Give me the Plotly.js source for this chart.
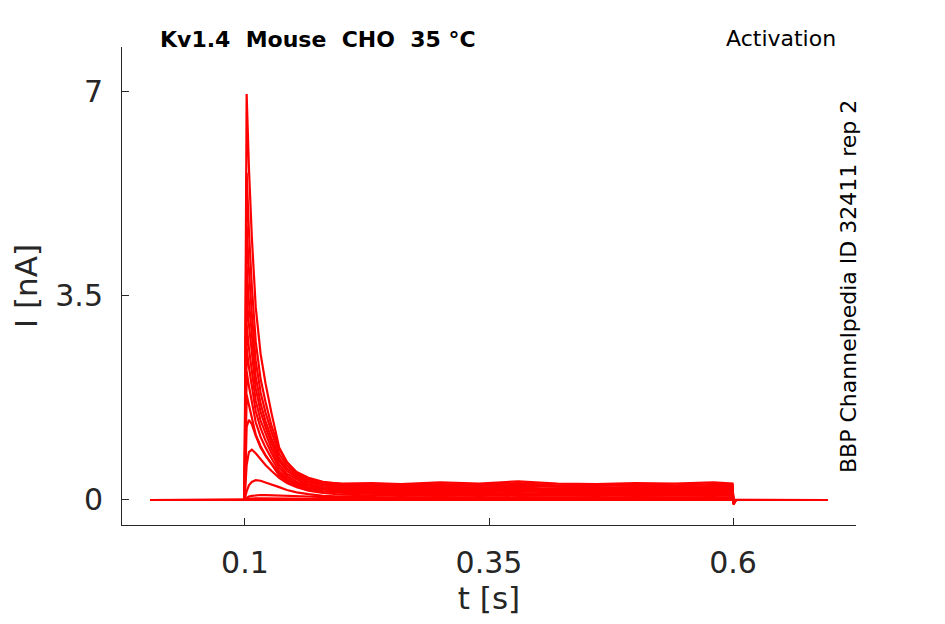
<!DOCTYPE html>
<html>
<head>
<meta charset="utf-8">
<script src="https://cdn.plot.ly/plotly-3.0.1.min.js"></script>
<style>
  body { margin: 0; background: #fff; }
  #chart { width: 945px; height: 624px; }
</style>
</head>
<body>
<div id="chart"></div>
<script>
// sample times [s]
const t = [0.003, 0.0995, 0.1003, 0.1017, 0.104, 0.107, 0.111, 0.116, 0.121, 0.127,
  0.135, 0.143, 0.153, 0.165, 0.18, 0.2, 0.23, 0.26, 0.3, 0.34,
  0.38, 0.42, 0.46, 0.5, 0.54, 0.58, 0.5995, 0.6005, 0.603, 0.65, 0.697];

// current traces [nA], one per voltage step
const i01 = [0, 0, 2.5, 6.95, 5.7, 4.5, 3.3, 2.5, 2.0, 1.5, 0.9, 0.65, 0.46, 0.36, 0.3, 0.28, 0.29, 0.27, 0.3, 0.28, 0.32, 0.28, 0.27, 0.29, 0.28, 0.3, 0.28, -0.08, 0, 0, 0];
const i02 = [0, 0, 2.0, 5.6, 4.61, 3.66, 2.71, 2.07, 1.68, 1.28, 0.87, 0.64, 0.48, 0.38, 0.31, 0.27, 0.26, 0.25, 0.27, 0.26, 0.29, 0.25, 0.26, 0.27, 0.25, 0.27, 0.26, -0.07, 0, 0, 0];
const i03 = [0, 0, 1.7, 4.7, 3.94, 3.18, 2.38, 1.84, 1.5, 1.17, 0.79, 0.59, 0.44, 0.35, 0.29, 0.25, 0.24, 0.23, 0.25, 0.24, 0.26, 0.23, 0.24, 0.25, 0.23, 0.24, 0.24, -0.06, 0, 0, 0];
const i04 = [0, 0, 1.4, 4.0, 3.39, 2.79, 2.11, 1.65, 1.35, 1.06, 0.72, 0.54, 0.41, 0.32, 0.27, 0.23, 0.22, 0.21, 0.23, 0.21, 0.24, 0.22, 0.21, 0.22, 0.21, 0.23, 0.22, -0.06, 0, 0, 0];
const i05 = [0, 0, 1.2, 3.5, 3.0, 2.51, 1.91, 1.51, 1.25, 0.98, 0.67, 0.5, 0.38, 0.3, 0.25, 0.21, 0.2, 0.19, 0.2, 0.19, 0.21, 0.19, 0.2, 0.2, 0.19, 0.2, 0.2, -0.05, 0, 0, 0];
const i06 = [0, 0, 1.0, 3.0, 2.6, 2.21, 1.7, 1.36, 1.13, 0.89, 0.61, 0.45, 0.35, 0.27, 0.22, 0.19, 0.18, 0.17, 0.18, 0.17, 0.19, 0.17, 0.18, 0.18, 0.17, 0.18, 0.18, -0.05, 0, 0, 0];
const i07 = [0, 0, 0.9, 2.6, 2.28, 1.96, 1.52, 1.23, 1.02, 0.81, 0.55, 0.41, 0.31, 0.25, 0.2, 0.17, 0.16, 0.15, 0.16, 0.15, 0.17, 0.15, 0.16, 0.16, 0.15, 0.16, 0.16, -0.04, 0, 0, 0];
const i08 = [0, 0, 0.8, 2.2, 1.95, 1.7, 1.33, 1.08, 0.9, 0.72, 0.49, 0.37, 0.28, 0.22, 0.18, 0.15, 0.14, 0.13, 0.14, 0.13, 0.15, 0.13, 0.14, 0.14, 0.13, 0.14, 0.14, -0.04, 0, 0, 0];
const i09 = [0, 0, 0.6, 1.8, 1.63, 1.43, 1.12, 0.92, 0.77, 0.62, 0.42, 0.32, 0.24, 0.19, 0.15, 0.13, 0.12, 0.11, 0.12, 0.11, 0.12, 0.11, 0.12, 0.11, 0.11, 0.12, 0.12, -0.03, 0, 0, 0];
const i10 = [0, 0, 0.4, 1.25, 1.37, 1.3, 1.1, 0.9, 0.76, 0.62, 0.45, 0.34, 0.26, 0.2, 0.15, 0.12, 0.1, 0.09, 0.1, 0.09, 0.1, 0.09, 0.09, 0.1, 0.09, 0.09, 0.1, -0.03, 0, 0, 0];
const i11 = [0, 0, 0.2, 0.6, 0.82, 0.86, 0.8, 0.7, 0.6, 0.5, 0.38, 0.29, 0.22, 0.16, 0.12, 0.09, 0.08, 0.07, 0.08, 0.07, 0.08, 0.07, 0.07, 0.08, 0.07, 0.07, 0.08, -0.02, 0, 0, 0];
const i12 = [0, 0, 0.05, 0.15, 0.25, 0.31, 0.34, 0.33, 0.3, 0.27, 0.22, 0.17, 0.13, 0.1, 0.07, 0.06, 0.05, 0.04, 0.05, 0.04, 0.05, 0.04, 0.04, 0.05, 0.04, 0.04, 0.05, -0.02, 0, 0, 0];
const i13 = [0, 0, 0.02, 0.04, 0.06, 0.07, 0.08, 0.085, 0.085, 0.08, 0.08, 0.07, 0.07, 0.06, 0.05, 0.04, 0.03, 0.03, 0.03, 0.03, 0.03, 0.03, 0.02, 0.03, 0.03, 0.03, 0.03, -0.01, 0, 0, 0];
const i14 = [0, 0, 0.01, 0.02, 0.025, 0.03, 0.03, 0.03, 0.03, 0.03, 0.03, 0.025, 0.02, 0.02, 0.02, 0.015, 0.01, 0.01, 0.01, 0.01, 0.01, 0.01, 0.0, 0.01, 0.01, 0.01, 0.01, 0, 0, 0, 0];
const i15 = [0, 0, 0, 0, 0, 0, 0, 0, 0, 0, 0, 0, 0, 0, 0, 0, 0, 0, 0, 0, 0, 0, 0, 0, 0, 0, 0, 0, 0, 0, 0];

const xTicks = [0.1, 0.35, 0.6];
const xTickText = ['0.1', '0.35', '0.6'];
const yTicks = [0, 3.5, 7];
const yTickText = ['0', '3.5', '7'];

const font = 'DejaVu Sans, Liberation Sans, sans-serif';
const ink = '#262626';

const traces = [i01, i02, i03, i04, i05, i06, i07, i08, i09, i10, i11, i12, i13, i14, i15]
  .map(y => ({
    x: t, y: y, type: 'scatter', mode: 'lines',
    line: {color: '#ff0000', width: 2.2},
    hoverinfo: 'skip', showlegend: false
  }));

const layout = {
  width: 945, height: 624,
  margin: {l: 122, r: 89, t: 47, b: 99},
  paper_bgcolor: '#fff', plot_bgcolor: '#fff',
  font: {family: font, color: ink},
  xaxis: {
    range: [-0.026, 0.726],
    tickvals: xTicks, ticktext: xTickText,
    ticks: 'inside', ticklen: 7, tickwidth: 1, tickcolor: ink,
    ticklabelstandoff: 11,
    showline: true, linecolor: ink, linewidth: 1,
    showgrid: false, zeroline: false,
    tickfont: {size: 30, color: ink},
    title: {text: 't [s]', font: {size: 31, color: ink}, standoff: 8}
  },
  yaxis: {
    range: [-0.428, 7.753],
    tickvals: yTicks, ticktext: yTickText,
    ticks: 'inside', ticklen: 7, tickwidth: 1, tickcolor: ink,
    ticklabelstandoff: 12,
    showline: true, linecolor: ink, linewidth: 1,
    showgrid: false, zeroline: false,
    tickfont: {size: 30, color: ink},
    title: {text: 'I [nA]', font: {size: 31, color: ink}, standoff: 8}
  },
  annotations: [
    {
      xref: 'paper', yref: 'paper', x: 0.049, y: 1.0166,
      xanchor: 'left', yanchor: 'middle', showarrow: false,
      text: '<b>Kv1.4\u00a0\u00a0Mouse\u00a0\u00a0CHO\u00a0\u00a035 °C</b>',
      font: {size: 22, color: '#000'}
    },
    {
      xref: 'paper', yref: 'paper', x: 0.9755, y: 1.0186,
      xanchor: 'right', yanchor: 'middle', showarrow: false,
      text: 'Activation',
      font: {size: 22, color: '#000'}
    },
    {
      xref: 'paper', yref: 'paper', x: 0.9905, y: 0.498,
      xanchor: 'center', yanchor: 'middle', showarrow: false,
      textangle: -90,
      text: 'BBP Channelpedia ID 32411 rep 2',
      font: {size: 22, color: '#000'}
    }
  ]
};

Plotly.newPlot('chart', traces, layout, {staticPlot: true, displayModeBar: false});
</script>
</body>
</html>
